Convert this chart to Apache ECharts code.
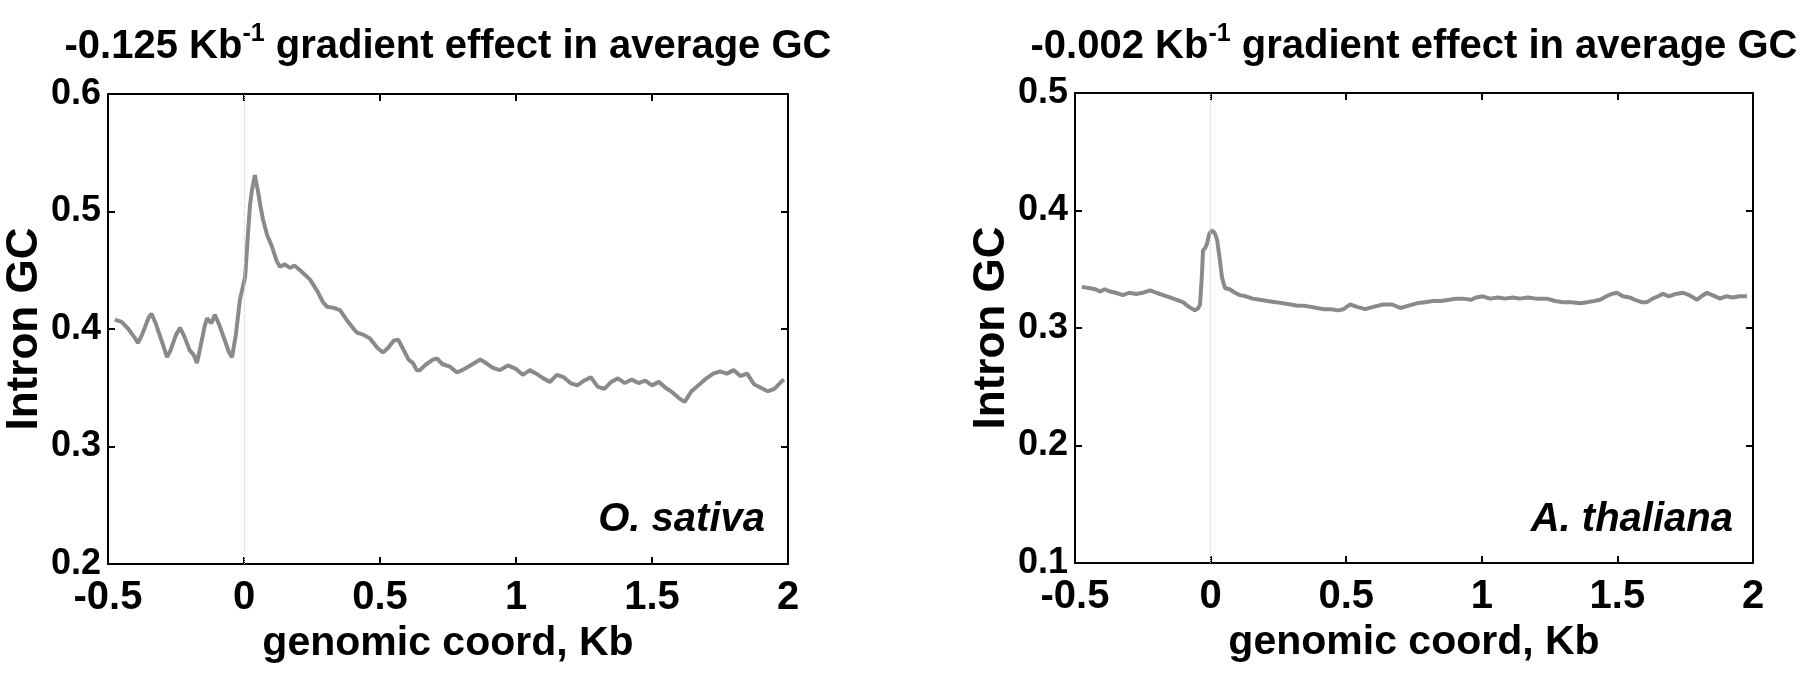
<!DOCTYPE html>
<html>
<head>
<meta charset="utf-8">
<script src="https://cdn.jsdelivr.net/npm/echarts@6/dist/echarts.min.js"></script>
<style>
  html, body { margin: 0; padding: 0; background: #fff; }
  #gcChart { width: 1800px; height: 677px; }
</style>
</head>
<body>
<div id="gcChart"></div>
<script>
// O. sativa intron GC profile
const xSativa = [-0.475, -0.45, -0.425, -0.4, -0.39, -0.375, -0.35, -0.34, -0.325, -0.3, -0.283, -0.27, -0.25, -0.235, -0.22, -0.2, -0.185, -0.173, -0.16, -0.145, -0.136, -0.12, -0.107, -0.09, -0.07, -0.055, -0.044, -0.03, -0.015, 0.004, 0.015, 0.022, 0.029, 0.035, 0.04, 0.045, 0.051, 0.06, 0.07, 0.085, 0.103, 0.12, 0.132, 0.15, 0.169, 0.185, 0.206, 0.225, 0.243, 0.27, 0.29, 0.305, 0.33, 0.353, 0.38, 0.4, 0.415, 0.44, 0.463, 0.49, 0.511, 0.53, 0.55, 0.567, 0.585, 0.605, 0.621, 0.635, 0.647, 0.67, 0.695, 0.709, 0.73, 0.757, 0.783, 0.81, 0.84, 0.868, 0.89, 0.915, 0.941, 0.97, 1.0, 1.025, 1.051, 1.075, 1.1, 1.125, 1.15, 1.175, 1.2, 1.225, 1.25, 1.275, 1.3, 1.325, 1.35, 1.375, 1.4, 1.425, 1.45, 1.475, 1.5, 1.525, 1.55, 1.575, 1.6, 1.62, 1.645, 1.67, 1.7, 1.725, 1.75, 1.775, 1.8, 1.825, 1.85, 1.875, 1.9, 1.925, 1.95, 1.975, 1.985];
const gcSativa = [0.408, 0.406, 0.4, 0.392, 0.388, 0.395, 0.41, 0.413, 0.405, 0.388, 0.376, 0.382, 0.395, 0.401, 0.394, 0.382, 0.378, 0.371, 0.385, 0.402, 0.409, 0.405, 0.412, 0.403, 0.39, 0.38, 0.376, 0.395, 0.425, 0.444, 0.482, 0.505, 0.518, 0.525, 0.531, 0.524, 0.518, 0.505, 0.493, 0.48, 0.47, 0.458, 0.453, 0.455, 0.452, 0.454, 0.45, 0.446, 0.442, 0.432, 0.423, 0.419, 0.418, 0.416, 0.407, 0.401, 0.397, 0.395, 0.392, 0.384, 0.38, 0.384, 0.39, 0.391, 0.383, 0.374, 0.371, 0.365, 0.365, 0.37, 0.374, 0.375, 0.37, 0.368, 0.363, 0.366, 0.37, 0.374, 0.371, 0.367, 0.365, 0.369, 0.366, 0.361, 0.365, 0.362, 0.358, 0.355, 0.361, 0.359, 0.354, 0.352, 0.356, 0.359, 0.351, 0.349, 0.355, 0.358, 0.354, 0.357, 0.354, 0.356, 0.352, 0.355, 0.35, 0.346, 0.341, 0.338, 0.347, 0.352, 0.358, 0.362, 0.364, 0.362, 0.365, 0.36, 0.362, 0.353, 0.35, 0.347, 0.349, 0.355, 0.357];

// A. thaliana intron GC profile
const xThaliana = [-0.475, -0.45, -0.425, -0.408, -0.39, -0.37, -0.35, -0.323, -0.3, -0.275, -0.25, -0.223, -0.2, -0.175, -0.15, -0.125, -0.102, -0.08, -0.058, -0.045, -0.039, -0.032, -0.028, -0.02, -0.013, -0.005, 0.005, 0.015, 0.024, 0.033, 0.042, 0.053, 0.07, 0.09, 0.108, 0.13, 0.155, 0.182, 0.21, 0.24, 0.267, 0.295, 0.32, 0.345, 0.37, 0.392, 0.42, 0.445, 0.47, 0.49, 0.514, 0.54, 0.57, 0.6, 0.636, 0.67, 0.7, 0.73, 0.76, 0.79, 0.82, 0.85, 0.88, 0.905, 0.931, 0.96, 0.98, 1.004, 1.03, 1.06, 1.085, 1.115, 1.14, 1.17, 1.2, 1.24, 1.27, 1.3, 1.33, 1.362, 1.39, 1.415, 1.436, 1.46, 1.48, 1.498, 1.52, 1.545, 1.565, 1.59, 1.609, 1.63, 1.65, 1.668, 1.69, 1.715, 1.742, 1.765, 1.793, 1.81, 1.83, 1.85, 1.878, 1.9, 1.925, 1.95, 1.978];
const gcThaliana = [0.335, 0.334, 0.333, 0.331, 0.333, 0.331, 0.33, 0.328, 0.33, 0.329, 0.33, 0.332, 0.33, 0.328, 0.326, 0.324, 0.322, 0.318, 0.315, 0.317, 0.32, 0.345, 0.366, 0.368, 0.372, 0.38, 0.383, 0.381, 0.375, 0.36, 0.343, 0.334, 0.333, 0.33, 0.328, 0.327, 0.325, 0.324, 0.323, 0.322, 0.321, 0.32, 0.319, 0.319, 0.318, 0.317, 0.316, 0.316, 0.315, 0.316, 0.32, 0.318, 0.316, 0.318, 0.32, 0.32, 0.317, 0.319, 0.321, 0.322, 0.323, 0.323, 0.324, 0.325, 0.325, 0.324, 0.326, 0.327, 0.325, 0.326, 0.325, 0.326, 0.325, 0.326, 0.325, 0.325, 0.323, 0.322, 0.322, 0.321, 0.322, 0.323, 0.324, 0.327, 0.329, 0.33, 0.327, 0.326, 0.324, 0.322, 0.322, 0.325, 0.327, 0.329, 0.327, 0.329, 0.33, 0.328, 0.324, 0.327, 0.33, 0.328, 0.325, 0.327, 0.326, 0.327, 0.327];

const xRange = [-0.5, 2];
const yRangeSativa = [0.2, 0.6];
const yRangeThaliana = [0.1, 0.5];
const gradients = ['-0.125', '-0.002'];
const species = ['O. sativa', 'A. thaliana'];

const fontFam = '"Liberation Sans", Arial, sans-serif';

function pairs(xs, ys) {
  let out = [];
  for (let i = 0; i < xs.length; i++) {
    out.push([xs[i], ys[i]]);
  }
  return out;
}

function titleOf(i, center) {
  return {
    text: '{a|' + gradients[i] + ' Kb}{s|-1}{a| gradient effect in average GC}',
    left: center,
    top: 22,
    padding: 0,
    textAlign: 'center',
    textStyle: {
      rich: {
        a: { fontFamily: fontFam, fontWeight: 'bold', fontSize: 40, lineHeight: 50, color: '#000' },
        s: { fontFamily: fontFam, fontWeight: 'bold', fontSize: 25, lineHeight: 18, verticalAlign: 'top', color: '#000' }
      }
    }
  };
}

function speciesOf(i, right) {
  return {
    text: species[i],
    right: right,
    top: 500,
    padding: 0,
    textStyle: { fontFamily: fontFam, fontWeight: 'bold', fontStyle: 'italic', fontSize: 40, color: '#000' }
  };
}

function xAxisOf(grid, bottom) {
  return {
    type: 'value',
    gridIndex: grid,
    position: bottom ? 'bottom' : 'top',
    min: xRange[0],
    max: xRange[1],
    interval: 0.5,
    splitLine: { show: false },
    axisLine: { show: true, onZero: false, lineStyle: { color: '#000', width: 2 } },
    axisTick: { show: true, inside: true, length: 7, lineStyle: { color: '#000', width: 2 } },
    axisLabel: {
      show: bottom,
      margin: 14,
      fontFamily: fontFam, fontWeight: 'bold', fontSize: 40, color: '#000',
      formatter: v => String(v)
    },
    name: bottom ? 'genomic coord, Kb' : '',
    nameLocation: 'middle',
    nameGap: 51,
    nameTextStyle: { fontFamily: fontFam, fontWeight: 'bold', fontSize: 41, color: '#000' }
  };
}

function yAxisOf(grid, range, left) {
  return {
    type: 'value',
    gridIndex: grid,
    position: left ? 'left' : 'right',
    min: range[0],
    max: range[1],
    interval: 0.1,
    splitLine: { show: false },
    axisLine: { show: true, onZero: false, lineStyle: { color: '#000', width: 2 } },
    axisTick: { show: true, inside: true, length: 7, lineStyle: { color: '#000', width: 2 } },
    axisLabel: {
      show: left,
      margin: 7,
      fontFamily: fontFam, fontWeight: 'bold', fontSize: 36, color: '#000',
      formatter: v => v.toFixed(1)
    },
    name: left ? 'Intron GC' : '',
    nameLocation: 'middle',
    nameRotate: 90,
    nameGap: 59,
    nameTextStyle: { fontFamily: fontFam, fontWeight: 'bold', fontSize: 44, color: '#000' }
  };
}

function lineOf(idx, data) {
  return {
    type: 'line',
    xAxisIndex: idx * 2,
    yAxisIndex: idx * 2,
    data: data,
    symbol: 'none',
    smooth: false,
    animation: false,
    lineStyle: { color: '#8a8a8a', width: 4 },
    markLine: {
      silent: true,
      symbol: 'none',
      label: { show: false },
      lineStyle: { color: '#d0d0d0', type: 'dotted', width: 1 },
      data: [{ xAxis: 0 }]
    }
  };
}

let myEchart = echarts.init(document.getElementById('gcChart'), null, { renderer: 'canvas' });

let option = {
  backgroundColor: '#fff',
  animation: false,
  title: [
    titleOf(0, 448),
    titleOf(1, 1414),
    speciesOf(0, 1035),
    speciesOf(1, 67)
  ],
  grid: [
    { left: 108, top: 94, width: 680, height: 470 },
    { left: 1075, top: 93, width: 678, height: 470 }
  ],
  xAxis: [
    xAxisOf(0, true), xAxisOf(0, false),
    xAxisOf(1, true), xAxisOf(1, false)
  ],
  yAxis: [
    yAxisOf(0, yRangeSativa, true), yAxisOf(0, yRangeSativa, false),
    yAxisOf(1, yRangeThaliana, true), yAxisOf(1, yRangeThaliana, false)
  ],
  series: [
    lineOf(0, pairs(xSativa, gcSativa)),
    lineOf(1, pairs(xThaliana, gcThaliana))
  ]
};

myEchart.setOption(option);
</script>
</body>
</html>
